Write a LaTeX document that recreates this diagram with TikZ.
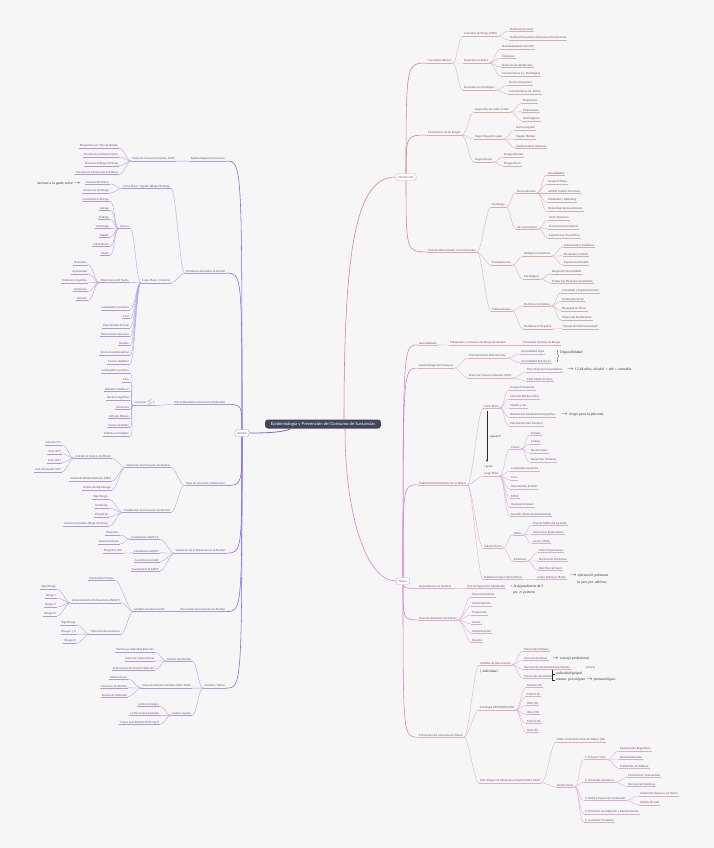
\documentclass[tikz,border=0pt]{standalone}
\usepackage{fontspec}
\setmainfont{Lato}
\newfontfamily\handfont{Liberation Serif}
\usetikzlibrary{calc,arrows.meta,decorations.pathreplacing}
\pgfdeclarelayer{back}
\pgfdeclarelayer{bg}
\pgfsetlayers{back,bg,main}
\definecolor{paper}{HTML}{F6F6F7}
\definecolor{txt}{HTML}{5B5B63}
\definecolor{introc}{HTML}{D9AEA4}
\definecolor{introdk}{HTML}{C98676}
\definecolor{tabc}{HTML}{DEAAD4}
\definecolor{tabdk}{HTML}{CF82C1}
\definecolor{alcc}{HTML}{AE98EA}
\definecolor{alcdk}{HTML}{8462E4}
\definecolor{rootc}{HTML}{40455A}
\definecolor{ink}{HTML}{2A2A2A}
\newcommand{\mapfont}{\fontsize{2.8}{3.3}\selectfont}
\newcommand{\inkfont}{\handfont\itshape\fontsize{3.7}{4.2}\selectfont}
\tikzset{
  conn/.style={draw=\brcol, line width=.35pt},
  trunk/.style={draw=\brdk, line width=.55pt},
  uline/.style={append after command={(\tikzlastnode.south west) edge[draw=\brcol, line width=.35pt] (\tikzlastnode.south east)}},
  rt/.style={font=\mapfont, text=txt, inner xsep=1pt, inner ysep=.6pt, anchor=west, uline},
  lt/.style={rt, anchor=east},
  hub/.style={font=\mapfont, text=txt, draw=\brcol, fill=white, rounded corners=2.5pt,
    line width=.45pt, inner xsep=2.5pt, inner ysep=1.3pt, minimum height=7pt},
  plain/.style={font=\mapfont, text=txt, inner sep=.5pt, anchor=west},
  note/.style={font=\inkfont, text=ink, inner sep=0pt, anchor=west},
  inkline/.style={draw=ink, line width=.3pt},
}
% enlaces entre temas
\newcommand{\rlink}[2]{\begin{pgfonlayer}{bg}
  \draw[conn] (#1.south east) .. controls +(5,0) and +(-5,0) .. (#2.south west);
  \end{pgfonlayer}}
\newcommand{\llink}[2]{\begin{pgfonlayer}{bg}
  \draw[conn] (#1.south west) .. controls +(-5,0) and +(5,0) .. (#2.south east);
  \end{pgfonlayer}}
\newcommand{\hubr}[2]{\begin{pgfonlayer}{bg}
  \draw[trunk] (#1.center) .. controls (#1.center |- #2.south west) .. (#2.south west);
  \end{pgfonlayer}}
\newcommand{\hubl}[2]{\begin{pgfonlayer}{bg}
  \draw[trunk] (#1.center) .. controls (#1.center |- #2.south east) .. (#2.south east);
  \end{pgfonlayer}}
% hojas: padre, prefijo, x, primera y, lista
\newcommand{\rleaves}[5]{\foreach \lf [count=\i] in {#5} {
  \node[rt] (#2\i) at (#3,#4+9*\i-9) {\lf}; \rlink{#1}{#2\i}}}
\newcommand{\lleaves}[5]{\foreach \lf [count=\i] in {#5} {
  \node[lt] (#2\i) at (#3,#4+9*\i-9) {\lf}; \llink{#1}{#2\i}}}

\begin{document}
\begin{tikzpicture}[x=1pt,y=-1pt]
\begin{pgfonlayer}{back}
  \fill[paper] (0,0) rectangle (714,848);
\end{pgfonlayer}

\node[fill=rootc, text=white, rounded corners=3pt, font=\fontsize{4.3}{5}\selectfont,
  minimum width=116pt, minimum height=9pt, inner sep=1pt] (root) at (323,424)
  {Epidemiología y Prevención del Consumo de Sustancias};

%% Introduccion
\begin{scope}
\def\brcol{introc}\def\brdk{introdk}
\node[hub] (intro) at (406,177) {Introducción};
\begin{pgfonlayer}{bg}
  \draw[trunk] ($(root.north)+(21,0)$) .. controls +(0,-170) and +(-40,0) .. (intro.west);
\end{pgfonlayer}
\node[rt] (cb) at (427,61) {Conceptos Básicos}; \hubr{intro}{cb}
 \node[rt] (cdr) at (463,34) {Concepto de Droga (OMS)}; \rlink{cb}{cdr}
  \rleaves{cdr}{cdr}{509}{29}{Definición General, Definición Específica (Sustancias Psicoactivas)}
 \node[rt] (dfi) at (463,61) {Dependencia Física}; \rlink{cb}{dfi}
  \rleaves{dfi}{dfi}{501}{47}{Neuroadaptación del SNC, Tolerancia, Síndrome de Abstinencia, Características (vs. Psicológica)}
 \node[rt] (dps) at (463,88) {Dependencia Psicológica}; \rlink{cb}{dps}
  \rleaves{dps}{dps}{508}{83}{Deseo Compulsivo, Características (vs. Física)}
\node[rt] (cld) at (427,133) {Clasificación de las Drogas}; \hubr{intro}{cld}
 \node[rt] (sef) at (474,110) {Según Efectos sobre el SNC}; \rlink{cld}{sef}
  \rleaves{sef}{sef}{522}{101}{Depresores, Estimulantes, Alucinógenos}
 \node[rt] (ssl) at (474,137) {Según Situación Legal}; \rlink{cld}{ssl}
  \rleaves{ssl}{ssl}{515}{128}{Lícitas (Legales), Ilegales (Ilícitas), Medicamentos Abusivos}
 \node[rt] (sdu) at (474,160) {Según Dureza}; \rlink{cld}{sdu}
  \rleaves{sdu}{sdu}{503}{155}{Drogas Blandas, Drogas Duras}
\node[rt] (frc) at (427,250) {Factores Relacionados con el Consumo}; \hubr{intro}{frc}
 \node[rt] (drg) at (491,205) {De Riesgo}; \rlink{frc}{drg}
  \node[rt] (soc) at (516,191) {Socioculturales}; \rlink{drg}{soc}
   \rleaves{soc}{soc}{547}{173}{Accesibilidad, Grupo de Pares, Actitud Familiar Permisiva, Publicidad y Marketing, Desventaja Socioeconómica}
  \node[rt] (cir) at (516,227) {Circunstanciales}; \rlink{drg}{cir}
   \rleaves{cir}{cir}{548}{218}{Inicio Temprano, Fracaso Escolar/Laboral, Experiencias Traumáticas}
 \node[rt] (pre) at (491,263) {Predisponentes}; \rlink{frc}{pre}
  \node[rt] (bio) at (523,254) {Biológicos/Genéticos}; \rlink{pre}{bio}
   \rleaves{bio}{bio}{563}{245}{Antecedentes Familiares, Desarrollo Cerebral, Exposición Prenatal}
  \node[rt] (psi) at (523,277) {Psicológicos}; \rlink{pre}{psi}
   \rleaves{psi}{psi}{551}{272}{Rasgos de Personalidad, Trastornos Mentales Comórbidos}
 \node[rt] (mot) at (491,309) {Motivacionales}; \rlink{frc}{mot}
  \node[rt] (rpo) at (523,304) {De Refuerzo Positivo}; \rlink{mot}{rpo}
   \rleaves{rpo}{rpo}{561}{290.7}{Curiosidad y Experimentación, Facilitación Social, Búsqueda de Placer, Mejora del Rendimiento}
  \node[rt] (rne) at (523,326.7) {De Refuerzo Negativo}; \rlink{mot}{rne}
   \rleaves{rne}{rne}{562}{326.7}{Manejo del Estrés/Ansiedad}
\end{scope}

%% Tabaco
\begin{scope}
\def\brcol{tabc}\def\brdk{tabdk}
\node[hub] (tab) at (403,581) {Tabaco};
\begin{pgfonlayer}{bg}
  \draw[trunk] ($(root.south)+(22,0)$) .. controls +(0,85) and +(-30,0) .. (tab.west);
\end{pgfonlayer}
\node[rt] (gen) at (418,343) {Generalidades}; \hubr{tab}{gen}
 \node[rt] (tcr) at (449,343) {Tabaquismo y Consumo de Riesgo de Alcohol}; \rlink{gen}{tcr}
  \node[rt] (pfr) at (522,343) {Principales Factores de Riesgo}; \rlink{tcr}{pfr}
\node[rt] (ept) at (418,366) {Epidemiología del Consumo}; \hubr{tab}{ept}
 \node[rt] (pfd) at (468,356) {Principal Factor Determinante}; \rlink{ept}{pfd}
  \rleaves{pfd}{pfd}{520}{352}{Accesibilidad Legal, Accesibilidad Económica}
 \node[rt] (dct) at (468,376) {Datos de Consumo (España, 2022)}; \rlink{ept}{dct}
  \rleaves{dct}{dct}{526}{370}{Porcentaje de Consumidores, Edad Media de Inicio}
\node[rt] (prt) at (418,483) {Problemas Relacionados con el Tabaco}; \hubr{tab}{prt}
 \node[rt] (cpt) at (483,406) {Corto Plazo}; \rlink{prt}{cpt}
  \rleaves{cpt}{cpt}{509}{388}{Arrugas Prematuras, Manchas Dientes/Uñas, Cabello y Tez, Disminución Rendimiento Deportivo, Mal Aliento/Olor Corporal}
 \node[rt] (lpt) at (483,474) {Largo Plazo}; \rlink{prt}{lpt}
  \node[rt] (can) at (510,447) {Cáncer}; \rlink{lpt}{can}
   \rleaves{can}{can}{530}{433}{Pulmón, Laringe, Bucofaríngeo, Renal/Vías Urinarias}
  \rleaves{lpt}{lpx}{510}{469}{Cardiopatía Isquémica, Ictus, Hipertensión Arterial, EPOC, Impotencia Sexual, Gastritis/Úlcera Gastroduodenal}
 \node[rt] (tpa) at (483,546) {Tabaco Pasivo}; \rlink{prt}{tpa}
  \node[rt] (nin) at (513,533) {Niños}; \rlink{tpa}{nin}
   \rleaves{nin}{nin}{532}{523.3}{Muerte Súbita del Lactante, Infecciones Respiratorias, Asma y Otitis}
  \node[rt] (emb) at (513,559) {Embarazo}; \rlink{tpa}{emb}
   \rleaves{emb}{emb}{538}{550.3}{Aborto Espontáneo, Nacimiento Prematuro, Bajo Peso al Nacer}
 \node[rt] (vap) at (483,577.3) {Problemas Vapeo (Corto Plazo)}; \rlink{prt}{vap}
  \node[rt] (vap1) at (536,577.3) {Lesión Pulmonar (Evali)}; \rlink{vap}{vap1}
\node[rt] (dni) at (418,586.3) {Dependencia a la Nicotina}; \hubr{tab}{dni}
 \node[rt] (dni1) at (466,586.3) {Test de Fagerström Modificado}; \rlink{dni}{dni1}
\node[rt] (fab) at (418,618) {Fases de Abandono del Tabaco}; \hubr{tab}{fab}
 \rleaves{fab}{fab}{471}{595}{Precontemplación, Contemplación, Preparación, Acción, Mantenimiento, Recaída}
\node[rt] (pvt) at (418,735.3) {Prevención del Consumo de Tabaco}; \hubr{tab}{pvt}
 \node[rt] (mdi) at (479,663) {Medidas de Intervención}; \rlink{pvt}{mdi}
  \rleaves{mdi}{mdi}{523}{649.3}{Prevención Primaria, Intervención Breve, Intervención Avanzada/Especializada, Prevención Secundaria}
 \node[rt] (mpw) at (479,707.7) {Estrategia MPOWER (OMS)}; \rlink{pvt}{mpw}
  \rleaves{mpw}{mpw}{526}{685.3}{Monitor (M), Protect (P), Offer (O), Warn (W), Enforce (E), Raise (R)}
 \node[rt] (pit) at (479,780.7) {Plan Integral de Tabaquismo España (2024-2027)}; \rlink{pvt}{pit}
  \node[rt] (meta) at (556,740) {Meta: Generación Libre de Tabaco (04)}; \rlink{pit}{meta}
  \node[rt] (pcl) at (556,785) {Puntos Clave}; \rlink{pit}{pcl}
   \node[rt] (p1n) at (584,757.7) {1. Prevenir Inicio}; \rlink{pcl}{p1n}
    \rleaves{p1n}{p1n}{619}{748.7}{Equiparación Regulatoria, Desnormalización, Prohibición de Aditivos}
   \node[rt] (p2n) at (584,780.3) {2. Fomentar Abandono}; \rlink{pcl}{p2n}
    \rleaves{p2n}{p2n}{627}{775.7}{Financiación Tratamientos, Intervención Sanitaria}
   \node[rt] (p3n) at (584,798.3) {3. Reducir Exposición Ambiental}; \rlink{pcl}{p3n}
    \rleaves{p3n}{p3n}{639}{793.7}{Ampliación Espacios sin Humo, Ámbito Privado}
   \node[rt] (p4n) at (584,811.7) {4. Promover Investigación y Monitorización}; \rlink{pcl}{p4n}
   \node[rt] (p5n) at (584,820.7) {5. Aumentar Fiscalidad}; \rlink{pcl}{p5n}
\node[plain] (crit) at (585,667.3) {Criterio};
\end{scope}

%% Alcohol
\begin{scope}
\def\brcol{alcc}\def\brdk{alcdk}
\node[hub] (alc) at (242,433) {Alcohol};
\begin{pgfonlayer}{bg}
  \draw[trunk, line width=.8pt] ($(root.south west)+(26,0)$) .. controls +(-8,4) and +(14,0) .. (alc.east);
\end{pgfonlayer}
\node[lt] (epa) at (226,159) {Epidemiología del Consumo}; \hubl{alc}{epa}
 \node[lt] (dca) at (176,159) {Datos de Consumo (España, 2022)}; \llink{epa}{dca}
  \lleaves{dca}{dca}{119}{145.7}{Prevalencia por Tipo de Bebida, Prevalencia y Edad de Inicio, Prevalencia Binge Drinking, Prevalencia Intoxicaciones Etílicas}
\node[lt] (paa) at (226,271.3) {Problemas Asociados al Alcohol}; \hubl{alc}{paa}
 \node[lt] (cpa) at (171,186.3) {Corto Plazo / Agudos (Binge Drinking)}; \llink{paa}{cpa}
  \lleaves{cpa}{cpa}{110}{182}{Intoxicación Etílica, Conductas de Riesgo}
 \node[lt] (lpa) at (171,280.7) {Largo Plazo / Crónicos}; \llink{paa}{lpa}
  \node[lt] (cna) at (130,226.7) {Cáncer}; \llink{lpa}{cna}
   \lleaves{cna}{cna}{110}{199.3}{Cavidad Oral/Faringe, Laringe, Esófago, Estómago, Hígado, Colon/Recto, Mama}
  \node[lt] (asu) at (130,280.7) {Alteraciones del Sueño}; \llink{lpa}{asu}
   \lleaves{asu}{asu}{88}{262.7}{Depresión, Agresividad, Deterioro Cognitivo, Demencia, Psicosis}
  \lleaves{lpa}{lpy}{130}{307.7}{Cardiopatía Isquémica, Ictus, Hipertensión Arterial, Disfunciones Sexuales, Suicidio, Úlcera Gastroduodenal, Cirrosis Hepática}
\node[lt] (ebc) at (226,402.3) {Efecto Beneficioso (Consumo Moderado)}; \hubl{alc}{ebc}
 \node[lt] (cmo) at (156,402.3) {Consumo $\leq$ 1}; \llink{ebc}{cmo}
  \lleaves{cmo}{cmo}{130}{371}{Cardiopatía Isquémica, Ictus, Diabetes Mellitus 2, Declive Cognitivo, Demencia, Cálculos Biliares, Cáncer de Riñón, Linfoma no Hodgkin}
\node[lt] (tce) at (226,483.3) {Tipos de Consumo y Estimación}; \hubl{alc}{tce}
 \node[lt] (vca) at (171,465.7) {Valoración del Consumo de Alcohol}; \llink{tce}{vca}
  \node[lt] (cge) at (112,456.3) {Cálculo de Gramos de Etanol}; \llink{vca}{cge}
   \lleaves{cge}{cge}{62}{442.7}{Cerveza (5°), Vino (12°), Licor (40°), Anís/Vermouth (18°)}
  \lleaves{vca}{vcx}{112}{478.7}{Unidad de Bebida Estándar (UBE), Límites de Bajo Riesgo}
 \node[lt] (cca) at (171,510.7) {Clasificación del Consumo de Alcohol}; \llink{tce}{cca}
  \lleaves{cca}{cca}{109}{497}{Bajo Riesgo, De Riesgo, Perjudicial, Excesivo Episódico (Binge Drinking)}
\node[lt] (vda) at (226,551) {Valoración de la Dependencia al Alcohol}; \hubl{alc}{vda}
 \node[lt] (aud) at (160,537.3) {Cuestionario AUDIT-C}; \llink{vda}{aud}
  \lleaves{aud}{aud}{120}{533}{Preguntas, Interpretaciones}
 \node[lt] (auf) at (160,551) {Cuestionario AUDIT}; \llink{vda}{auf}
  \node[lt] (auf1) at (123,551) {Preguntas (10)}; \llink{auf}{auf1}
 \node[lt] (cag) at (160,560) {Cuestionario CAGE}; \llink{vda}{cag}
 \node[lt] (mst) at (160,569) {Cuestionario B-MAST}; \llink{vda}{mst}
\node[lt] (pca) at (226,609.7) {Prevención del Consumo de Alcohol}; \hubl{alc}{pca}
 \node[lt] (mia) at (166,609.7) {Medidas de Intervención}; \llink{pca}{mia}
  \node[lt] (ppr) at (115,578) {Prevención Primaria}; \llink{mia}{ppr}
  \node[lt] (ipa) at (121,600.7) {Interpretaciones Puntuaciones (AUDIT)}; \llink{mia}{ipa}
   \lleaves{ipa}{ipa}{57}{587}{Bajo Riesgo, Riesgo I, Riesgo II, Riesgo III}
  \node[lt] (tin) at (121,632) {Tipos de Intervenciones}; \llink{mia}{tin}
   \lleaves{tin}{tin}{77}{623}{Bajo Riesgo, Riesgo I y II, Riesgo III}
\node[lt] (aty) at (226,686) {Alcohol y Tráfico}; \hubl{alc}{aty}
 \node[lt] (efa) at (192,659) {Efectos del Alcohol}; \llink{aty}{efa}
  \lleaves{efa}{efa}{155}{650}{Disminuye Velocidad Reacción, Estrecha Campo Visual, Sobrevaloración Control Vehículo}
 \node[lt] (cam) at (192,686) {Causa Accidentes Mortales (DGT 2022)}; \llink{aty}{cam}
  \lleaves{cam}{cam}{128}{677}{Distracciones, Consumo de Alcohol, Exceso de Velocidad}
 \node[lt] (lle) at (192,713.3) {Límites Legales}; \llink{aty}{lle}
  \lleaves{lle}{lle}{160}{704.3}{Límite en Sangre, Límite en Aire Espirado, {Copas para Positivo (0,25 mg/l)}}
\end{scope}

%% notas a mano
\draw[inkline, decorate, decoration={brace, amplitude=1.5pt}] (557,350) -- (557,362);
\node[note] (n1) at (560,353) {Disponibilidad};
\node[note] (n2) at (567,369) {$\rightarrow$ 15-64 años, alcohol > tab > cannabis};
\node[note] (n3) at (561,415) {$\rightarrow$ riesgo para la placenta};
\coordinate (ar1) at (487,411);
\coordinate (ar2) at (487,462);
\draw[inkline, -{Stealth[length=2.5pt,width=2pt]}] (ar1) -- (ar2);
\node[note, font=\handfont\itshape\fontsize{3}{3.4}\selectfont] (n4) at (490,437) {Agudo/1ª};
\node[note, font=\handfont\itshape\fontsize{3}{3.4}\selectfont] (n5) at (483,466.5) {+ grave};
\node[note] (n6) at (570,576) {$\rightarrow$ afectación pulmonar};
\node[note] (n7) at (577,582.5) {la peor por aditivos};
\node[note] (n8) at (510,587) {+ la dependencia de 3};
\node[note] (n9) at (513,593) {pts. el primero};
\node[note] (n10) at (552,658.3) {$\rightarrow$ consejo profesional};
\coordinate (bk1) at (552,670);
\draw[inkline] (bk1) -- ++(0,4.5) -- ++(3,0);
\draw[inkline] (bk1) ++(0,4.5) -- ++(0,6) -- ++(3,0);
\node[note] (n11) at (556,673.5) {individual/grupal};
\node[note] (n12) at (556,680) {tratam. psicológico $\rightarrow$ farmacológico};
\node[note] (n13) at (480,671) {\{ individual};
\node[note, anchor=east] (n14) at (81,184) {motivar a la gente sobre $\rightarrow$};
\end{tikzpicture}
\end{document}
